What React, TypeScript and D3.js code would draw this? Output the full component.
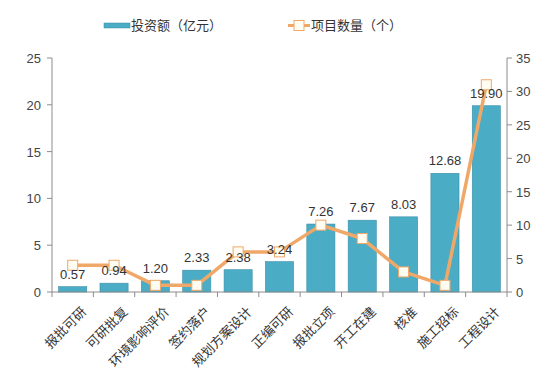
import React from "react";
import * as d3 from "d3";

const categories = ["报批可研", "可研批复", "环境影响评价", "签约落户", "规划方案设计", "正编可研", "报批立项", "开工在建", "核准", "施工招标", "工程设计"];
const investment = [0.57, 0.94, 1.2, 2.33, 2.38, 3.24, 7.26, 7.67, 8.03, 12.68, 19.9];
const projectCount = [4, 4, 1, 1, 6, 6, 10, 8, 3, 1, 31];
const leftTicks = [0, 5, 10, 15, 20, 25];
const rightTicks = [0, 5, 10, 15, 20, 25, 30, 35];

const W = 546, H = 380;
const left = 52, right = 507, top = 58, bottom = 292;
const numFont = "'Liberation Sans', Arial, sans-serif";
const cjkFont = "'Noto Sans CJK SC', sans-serif";

export default function App() {
  const x = d3.scaleBand<string>().domain(categories).range([left, right]).paddingInner(0.32).paddingOuter(0.16);
  const band = d3.scaleBand<string>().domain(categories).range([left, right]);
  const yL = d3.scaleLinear().domain([0, 25]).range([bottom, top]);
  const yR = d3.scaleLinear().domain([0, 35]).range([bottom, top]);
  const line = d3.line<number>().x((_, i) => (x(categories[i]) as number) + x.bandwidth() / 2).y((d) => yR(d));
  const axisColor = "#8c8c8c";
  const orange = "#F0A868";
  return (
    <svg width={W} height={H} style={{ position: "absolute", left: 0, top: 0, background: "#fff" }}>
      {/* legend */}
      <rect x={104} y={23} width={26} height={5} fill="#4BACC6" stroke="#3a8aa0" strokeWidth={0.5} />
      <text x={131} y={30} fontSize={13} fontFamily={cjkFont} fill="#333">投资额（亿元）</text>
      <line x1={288} x2={310} y1={25.5} y2={25.5} stroke={orange} strokeWidth={3} />
      <rect x={294} y={20.5} width={10} height={10} fill="#FFFDF2" stroke={orange} strokeWidth={1} />
      <text x={311} y={30} fontSize={13} fontFamily={cjkFont} fill="#333">项目数量（个）</text>

      {/* left axis */}
      <line x1={left} x2={left} y1={top} y2={bottom} stroke={axisColor} />
      {leftTicks.map((t) => (
        <g key={"l" + t}>
          <line x1={left - 5} x2={left} y1={yL(t)} y2={yL(t)} stroke={axisColor} />
          <text x={left - 11} y={yL(t) + 5} textAnchor="end" fontSize={13} fontFamily={numFont} fill="#444">{t}</text>
        </g>
      ))}
      {/* right axis */}
      <line x1={right} x2={right} y1={top} y2={bottom} stroke={axisColor} />
      {rightTicks.map((t) => (
        <g key={"r" + t}>
          <line x1={right} x2={right + 5} y1={yR(t)} y2={yR(t)} stroke={axisColor} />
          <text x={right + 9} y={yR(t) + 5} textAnchor="start" fontSize={13} fontFamily={numFont} fill="#444">{t}</text>
        </g>
      ))}

      {/* bars */}
      {investment.map((v, i) => (
        <rect key={"b" + i} x={x(categories[i])} y={yL(v)} width={x.bandwidth()} height={bottom - yL(v)} fill="#4BACC6" stroke="#3b8ea6" strokeWidth={0.6} />
      ))}

      {/* x axis */}
      <line x1={left} x2={right} y1={bottom} y2={bottom} stroke={axisColor} />
      {categories.map((c, i) => (
        <line key={"xt" + i} x1={(band(c) as number) + band.bandwidth()} x2={(band(c) as number) + band.bandwidth()} y1={bottom} y2={bottom + 5} stroke={axisColor} />
      ))}
      <line x1={left} x2={left} y1={bottom} y2={bottom + 5} stroke={axisColor} />

      {/* line */}
      <path d={line(projectCount) as string} fill="none" stroke={orange} strokeWidth={3.5} strokeLinejoin="round" />
      {projectCount.map((v, i) => (
        <rect key={"m" + i} x={(x(categories[i]) as number) + x.bandwidth() / 2 - 5} y={yR(v) - 5} width={10} height={10} fill="#FFFDF2" stroke={orange} strokeWidth={1} />
      ))}

      {/* value labels */}
      {investment.map((v, i) => (
        <text key={"v" + i} x={(x(categories[i]) as number) + x.bandwidth() / 2} y={yL(v) - 8} textAnchor="middle" fontSize={13} fontFamily={numFont} fill="#333">{v.toFixed(2)}</text>
      ))}

      {/* category labels */}
      {categories.map((c, i) => {
        const cx = (x(c) as number) + x.bandwidth() / 2 + 6;
        const cy = bottom + 12;
        return (
          <text key={"c" + i} transform={`translate(${cx},${cy}) rotate(-45)`} textAnchor="end" dominantBaseline="hanging" fontSize={13} fontFamily={cjkFont} fill="#333">{c}</text>
        );
      })}
    </svg>
  );
}
